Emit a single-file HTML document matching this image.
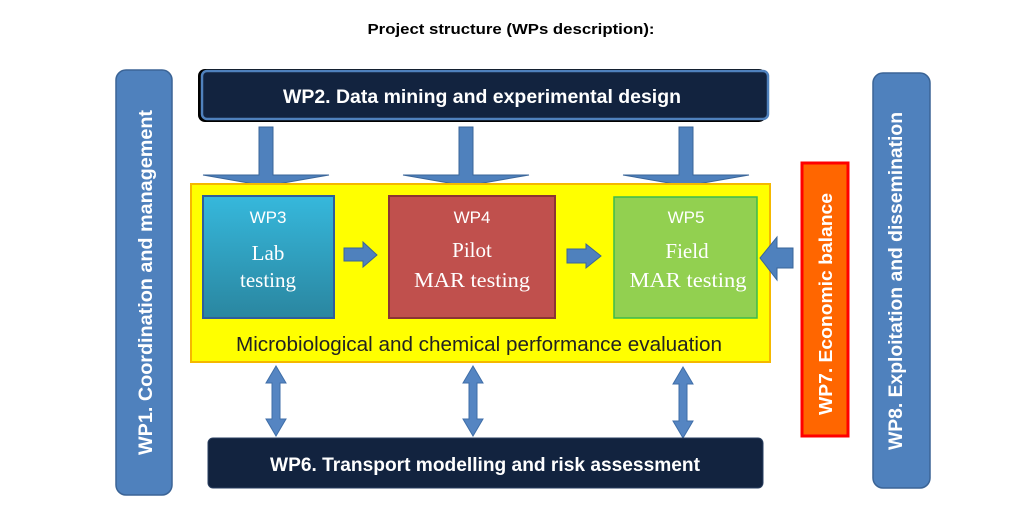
<!DOCTYPE html>
<html><head><meta charset="utf-8"><style>
html,body{margin:0;padding:0;background:#fff;}
svg{display:block;}
</style></head><body>
<svg width="1022" height="512" viewBox="0 0 1022 512" xmlns="http://www.w3.org/2000/svg">
<defs>
<linearGradient id="g3" x1="0" y1="0" x2="0" y2="1">
<stop offset="0" stop-color="#36b8dc"/><stop offset="1" stop-color="#2a86a0"/>
</linearGradient>
</defs>
<rect width="1022" height="512" fill="#fff"/>
<text x="511" y="34" font-family="Liberation Sans, Arial, sans-serif" font-weight="bold" font-size="15" text-anchor="middle" textLength="287" lengthAdjust="spacingAndGlyphs" fill="#000">Project structure (WPs description):</text>

<!-- WP1 -->
<rect x="116" y="70" width="56" height="425" rx="10" fill="#4f81bd" stroke="#3b6496" stroke-width="1.5"/>
<text transform="translate(152,282.5) rotate(-90)" font-family="Liberation Sans, Arial, sans-serif" font-weight="bold" font-size="19" text-anchor="middle" textLength="345" lengthAdjust="spacingAndGlyphs" fill="#fff">WP1. Coordination and management</text>

<!-- WP8 -->
<rect x="873" y="73" width="57" height="415" rx="10" fill="#4f81bd" stroke="#3b6496" stroke-width="1.5"/>
<text transform="translate(902,281) rotate(-90)" font-family="Liberation Sans, Arial, sans-serif" font-weight="bold" font-size="19" text-anchor="middle" textLength="338" lengthAdjust="spacingAndGlyphs" fill="#fff">WP8. Exploitation and dissemination</text>

<!-- WP2 -->
<rect x="198" y="69" width="568" height="53" rx="7" fill="#000"/>
<rect x="202" y="71" width="566" height="48" rx="5" fill="#12233f" stroke="#4f81bd" stroke-width="2.5"/>
<text x="482" y="103" font-family="Liberation Sans, Arial, sans-serif" font-weight="bold" font-size="19" text-anchor="middle" textLength="398" lengthAdjust="spacingAndGlyphs" fill="#fff">WP2. Data mining and experimental design</text>

<!-- down arrows -->
<g fill="#4f81bd" stroke="#3a6599" stroke-width="1">
<polygon points="259,127 273,127 273,175 329,175 266,186 203,175 259,175"/>
<polygon points="459,127 473,127 473,175 529,175 466,186 403,175 459,175"/>
<polygon points="679,127 693,127 693,175 749,175 686,186 623,175 679,175"/>
</g>

<!-- yellow box -->
<rect x="191" y="184" width="579" height="178" fill="#ffff00" stroke="#f5b800" stroke-width="2"/>

<!-- WP3 -->
<rect x="203" y="196" width="131" height="122" fill="url(#g3)" stroke="#2f5e9a" stroke-width="2"/>
<text x="268" y="223" font-family="Liberation Sans, Arial, sans-serif" font-size="17" text-anchor="middle" fill="#fff">WP3</text>
<text x="268" y="260" font-family="Liberation Serif, Times New Roman, serif" font-size="21" text-anchor="middle" fill="#fff">Lab</text>
<text x="268" y="287" font-family="Liberation Serif, Times New Roman, serif" font-size="21" text-anchor="middle" fill="#fff">testing</text>

<!-- WP4 -->
<rect x="389" y="196" width="166" height="122" fill="#c0504d" stroke="#8b3533" stroke-width="2"/>
<text x="472" y="223" font-family="Liberation Sans, Arial, sans-serif" font-size="17" text-anchor="middle" fill="#fff">WP4</text>
<text x="472" y="257" font-family="Liberation Serif, Times New Roman, serif" font-size="21" text-anchor="middle" fill="#fff">Pilot</text>
<text x="472" y="287" font-family="Liberation Serif, Times New Roman, serif" font-size="21" text-anchor="middle" textLength="116" lengthAdjust="spacingAndGlyphs" fill="#fff">MAR testing</text>

<!-- WP5 -->
<rect x="614" y="197" width="143" height="121" fill="#92d050" stroke="#3dba4a" stroke-width="1.5"/>
<text x="686" y="223" font-family="Liberation Sans, Arial, sans-serif" font-size="17" text-anchor="middle" fill="#fff">WP5</text>
<text x="687" y="258" font-family="Liberation Serif, Times New Roman, serif" font-size="21" text-anchor="middle" fill="#fff">Field</text>
<text x="688" y="287" font-family="Liberation Serif, Times New Roman, serif" font-size="21" text-anchor="middle" textLength="117" lengthAdjust="spacingAndGlyphs" fill="#fff">MAR testing</text>

<!-- horizontal arrows -->
<g fill="#4f81bd" stroke="#3a6599" stroke-width="1">
<polygon points="344,248 363,248 363,242 377,255 363,267 363,261 344,261"/>
<polygon points="567,249 586,249 586,244 601,256 586,268 586,263 567,263"/>
<polygon points="793,248 777,248 777,237 760,258 777,280 777,268 793,268"/>
</g>

<text x="479" y="351" font-family="Liberation Sans, Arial, sans-serif" font-size="20" text-anchor="middle" textLength="486" lengthAdjust="spacingAndGlyphs" fill="#222">Microbiological and chemical performance evaluation</text>

<!-- WP7 -->
<rect x="802" y="163" width="46" height="273" fill="#ff6600" stroke="#ff0000" stroke-width="3"/>
<text transform="translate(832,304) rotate(-90)" font-family="Liberation Sans, Arial, sans-serif" font-weight="bold" font-size="18" text-anchor="middle" textLength="222" lengthAdjust="spacingAndGlyphs" fill="#fff">WP7. Economic balance</text>

<!-- double arrows -->
<g fill="#5585c2" stroke="#3f6ea8" stroke-width="1">
<polygon points="276,366 286,383 280,383 280,419 286,419 276,436 266,419 272,419 272,383 266,383"/>
<polygon points="473,366 483,383 477,383 477,419 483,419 473,436 463,419 469,419 469,383 463,383"/>
<polygon points="683,367 693,384 687,384 687,421 693,421 683,438 673,421 679,421 679,384 673,384"/>
</g>

<!-- WP6 -->
<rect x="208" y="438" width="555" height="50" rx="5" fill="#12233f" stroke="#2a3f60" stroke-width="1"/>
<text x="485" y="471" font-family="Liberation Sans, Arial, sans-serif" font-weight="bold" font-size="19" text-anchor="middle" textLength="430" lengthAdjust="spacingAndGlyphs" fill="#fff">WP6. Transport modelling and risk assessment</text>
</svg>
</body></html>
